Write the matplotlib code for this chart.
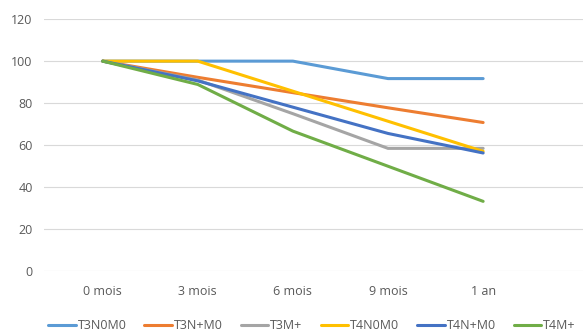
import matplotlib.pyplot as plt

categories = ['0 mois', '3 mois', '6 mois', '9 mois', '1 an']
t3n0m0 = [100, 100, 100, 91.7, 91.7]
t3npm0 = [100, 92.3, 85.0, 77.8, 70.8]
t3mp = [100, 91.0, 75.0, 58.5, 58.5]
t4n0m0 = [100, 100, 85.7, 71.4, 57.1]
t4npm0 = [100, 90.6, 78.1, 65.6, 56.3]
t4mp = [100, 88.9, 66.7, 50.0, 33.3]

series = [('T3N0M0', t3n0m0, '#5B9BD5'),
          ('T3N+M0', t3npm0, '#ED7D31'),
          ('T3M+', t3mp, '#A5A5A5'),
          ('T4N0M0', t4n0m0, '#FFC000'),
          ('T4N+M0', t4npm0, '#4472C4'),
          ('T4M+', t4mp, '#70AD47')]

plt.rcParams['font.family'] = ['Open Sans', 'DejaVu Sans']

fig = plt.figure(figsize=(5.83, 3.35), dpi=100)
ax = fig.add_axes([0.075, 0.19, 0.925, 0.753])

x = list(range(len(categories)))
for name, vals, color in series:
    ax.plot(x, vals, color=color, lw=2.2, label=name, solid_capstyle='round')

ax.set_ylim(0, 120)
ax.set_yticks(range(0, 121, 20))
ax.set_xlim(-0.62, 5.05)
ax.set_xticks(x)
ax.set_xticklabels(categories)
ax.grid(axis='y', color='#D9D9D9', lw=0.8)
ax.set_axisbelow(True)
for s in ax.spines.values():
    s.set_visible(False)
ax.tick_params(length=0, labelsize=9, colors='#595959', pad=8)
ax.tick_params(axis='x', pad=10)

fig.legend(loc='lower center', bbox_to_anchor=(0.535, -0.025), ncol=6, frameon=False,
           fontsize=9, labelcolor='#595959', handlelength=2.2, handletextpad=0.15,
           columnspacing=1.45)

fig.savefig('out.png', dpi=100)
